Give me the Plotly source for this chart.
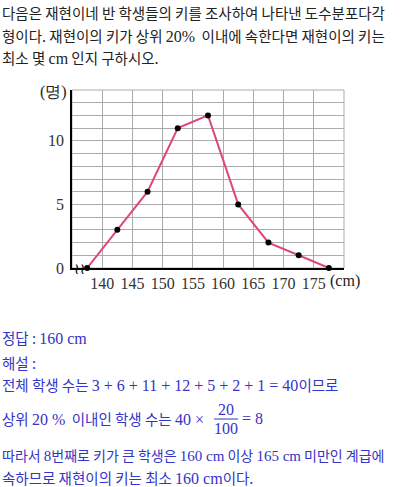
import plotly.graph_objects as go

# ---- data ----
heights = [137.5, 142.5, 147.5, 152.5, 157.5, 162.5, 167.5, 172.5, 177.5]
counts = [0, 3, 6, 11, 12, 5, 2, 1, 0]
x_tick_vals = [135, 140, 145, 150, 155, 160, 165, 170, 175, 180]
x_tick_labels = ["", "140", "145", "150", "155", "160", "165", "170", "175", ""]
y_tick_vals = [0, 1, 2, 3, 4, 5, 6, 7, 8, 9, 10, 11, 12, 13, 14]
y_tick_labels = ["0", "", "", "", "", "5", "", "", "", "", "10", "", "", "", ""]

W, H = 400, 487
L, R, T, B = 72, 344, 90, 268
SANS = "Noto Sans CJK KR"
SERIF = "Liberation Serif"
BLUE = "#3434c8"
DARK = "#222222"

fig = go.Figure()
fig.add_trace(go.Scatter(
    x=heights, y=counts, mode="lines+markers",
    line=dict(color="#dc4a72", width=2),
    marker=dict(color="black", size=6),
    cliponaxis=False, hoverinfo="skip", showlegend=False,
))

fig.update_layout(
    width=W, height=H,
    margin=dict(l=L, r=W - R, t=T, b=H - B, pad=0),
    paper_bgcolor="white", plot_bgcolor="white",
    font=dict(family=SANS, color=DARK),
    xaxis=dict(range=[135, 180], tickvals=x_tick_vals, ticktext=x_tick_labels,
               showgrid=True, gridcolor="#ababab", gridwidth=1,
               showline=True, linecolor="black", linewidth=2, zeroline=False,
               ticks="", tickfont=dict(family=SERIF, size=16, color="#333")),
    yaxis=dict(range=[0, 14], tickvals=y_tick_vals, ticktext=y_tick_labels,
               showgrid=True, gridcolor="#ababab", gridwidth=1,
               showline=True, linecolor="black", linewidth=1.5, zeroline=False,
               ticks="", ticklabelstandoff=3,
               tickfont=dict(family=SERIF, size=16, color="#333")),
)

fig.add_shape(type="rect", xref="paper", yref="paper", x0=0, x1=1, y0=0, y1=1,
              line=dict(color="#ababab", width=1), layer="below")


def px2paper(px, py):
    return (px - L) / (R - L), (B - py) / (B - T)


def ann(text, px, py, size=14.5, color=DARK, xanchor="left", family=SANS):
    x, y = px2paper(px, py)
    fig.add_annotation(text=text, x=x, y=y, xref="paper", yref="paper",
                       xanchor=xanchor, yanchor="middle", showarrow=False,
                       font=dict(size=size, color=color, family=family))


def s(t, size=16):
    return f'<span style="font-family:{SERIF};font-size:{size}px">{t}</span>'


# question
ann("다음은 재현이네 반 학생들의 키를 조사하여 나타낸 도수분포다각", 0, 12)
ann("형이다. 재현이의 키가 상위 " + s("20%") + "  이내에 속한다면 재현이의 키는", 0, 35)
ann("최소 몇 " + s("cm") + " 인지 구하시오.", 0, 57)

# axis labels
ann("(명)", 53, 92, size=16, xanchor="center", family=SERIF)
ann("(cm)", 345, 281, size=16, xanchor="center", family=SERIF)
ann("≀≀", 79, 269, size=15, xanchor="center", family="DejaVu Sans", color="black")

# solution
ann("정답 : " + s("160 cm"), 0, 337, color=BLUE)
ann("해설 :", 0, 362, color=BLUE)
ann("전체 학생 수는 " + s("3 + 6 + 11 + 12 + 5 + 2 + 1 = 40") + "이므로", 0, 384, color=BLUE)
ann("상위 " + s("20 %") + "  이내인 학생 수는 " + s("40 ×"), 0, 418, color=BLUE)
ann(s("20"), 226, 409, color=BLUE, xanchor="center")
ann(s("100"), 226, 428, color=BLUE, xanchor="center")
ann(s("= 8"), 240, 418, color=BLUE)
x0, y0 = px2paper(214, 419)
x1, _ = px2paper(238, 419)
fig.add_shape(type="line", xref="paper", yref="paper", x0=x0, x1=x1, y0=y0, y1=y0,
              line=dict(color=BLUE, width=1))
ann("따라서 " + s("8", 15) + "번째로 키가 큰 학생은 " + s("160 cm", 15) + " 이상 " + s("165 cm", 15) + " 미만인 계급에",
    0, 455, size=14, color=BLUE)
ann("속하므로 재현이의 키는 최소 " + s("160 cm") + "이다.", 0, 477, color=BLUE)

fig.write_html("out.html", config={"displayModeBar": False},
               post_script="document.body.style.margin='0';document.body.style.overflow='hidden';")
